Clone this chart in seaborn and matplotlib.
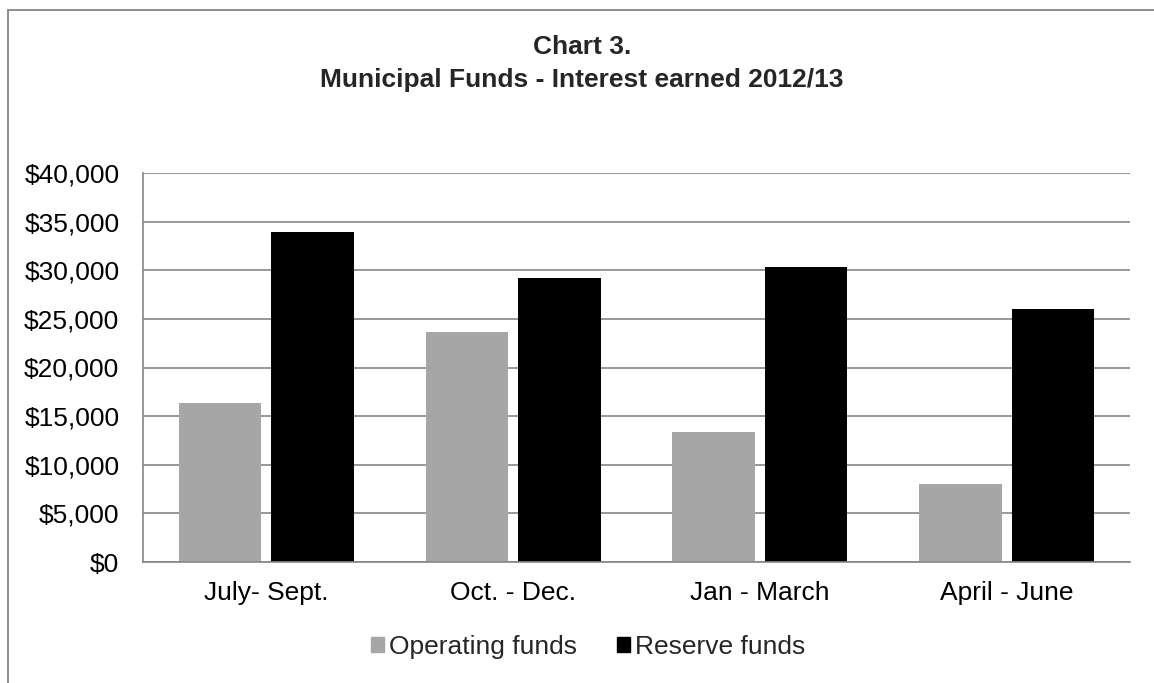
import matplotlib
matplotlib.use("Agg")
import matplotlib.pyplot as plt
import matplotlib.ticker as mticker
from matplotlib.patches import Rectangle
import seaborn as sns
import pandas as pd

# Quarterly interest earned, 2012/13
quarters = ["July- Sept.", "Oct. - Dec.", "Jan - March", "April - June"]
operating_funds = [16400, 23700, 13400, 8000]
reserve_funds = [33900, 29200, 30300, 26000]
series_names = ["Operating funds", "Reserve funds"]
series_colors = ["#A6A6A6", "#000000"]
y_ticks = [0, 5000, 10000, 15000, 20000, 25000, 30000, 35000, 40000]

df = pd.DataFrame({
    "Quarter": quarters * 2,
    "Fund": [series_names[0]] * len(quarters) + [series_names[1]] * len(quarters),
    "Interest": operating_funds + reserve_funds,
})

sns.set_theme(style="white")
plt.rcParams["font.family"] = ["Liberation Sans", "DejaVu Sans"]

FS = 19

fig = plt.figure(figsize=(11.54, 6.83), dpi=100)
W, H = 1154, 683
ax = fig.add_axes([143 / W, 1 - 562 / H, (1130 - 143) / W, (562 - 173) / H])

sns.barplot(data=df, x="Quarter", y="Interest", hue="Fund",
            palette=series_colors, order=quarters, hue_order=series_names,
            width=0.75, gap=0.11, linewidth=0, saturation=1, ax=ax)

ax.set_ylim(0, 40000)
ax.set_xlim(-0.5, len(quarters) - 0.5)
ax.set_yticks(y_ticks)
ax.yaxis.set_major_formatter(mticker.FuncFormatter(lambda v, _: f"${v:,.0f}"))
ax.set_axisbelow(True)
ax.yaxis.grid(True, color="#868686", linewidth=1.2)
ax.xaxis.grid(False)
ax.set_xlabel("")
ax.set_ylabel("")
ax.tick_params(axis="both", labelsize=FS, colors="black", length=0)
ax.tick_params(axis="x", pad=14)
ax.tick_params(axis="y", pad=17)
for side in ["top", "right"]:
    ax.spines[side].set_visible(False)
for side in ["left", "bottom"]:
    ax.spines[side].set_color("#868686")
    ax.spines[side].set_linewidth(1.2)

ax.legend_.remove()
handles = [Rectangle((0, 0), 1, 1, color=c) for c in series_colors]
fig.legend(handles, series_names, loc="center", bbox_to_anchor=(588 / W, 1 - 647 / H),
           ncol=2, frameon=False, fontsize=FS, handlelength=0.5, handleheight=0.5,
           handletextpad=0.2, columnspacing=1.5)

fig.text(582 / W, 1 - 47 / H, "Chart 3.", ha="center", va="center",
         fontsize=FS, fontweight="bold")
fig.text(582 / W, 1 - 80 / H, "Municipal Funds - Interest earned 2012/13",
         ha="center", va="center", fontsize=FS, fontweight="bold")

# Outer chart frame
fig.patches.append(Rectangle((8 / W, -0.05), 1.1, 1 - 10 / H + 0.05,
                             transform=fig.transFigure, fill=False,
                             edgecolor="#868686", linewidth=1.3))

fig.savefig("out.png", dpi=100, facecolor="white")
